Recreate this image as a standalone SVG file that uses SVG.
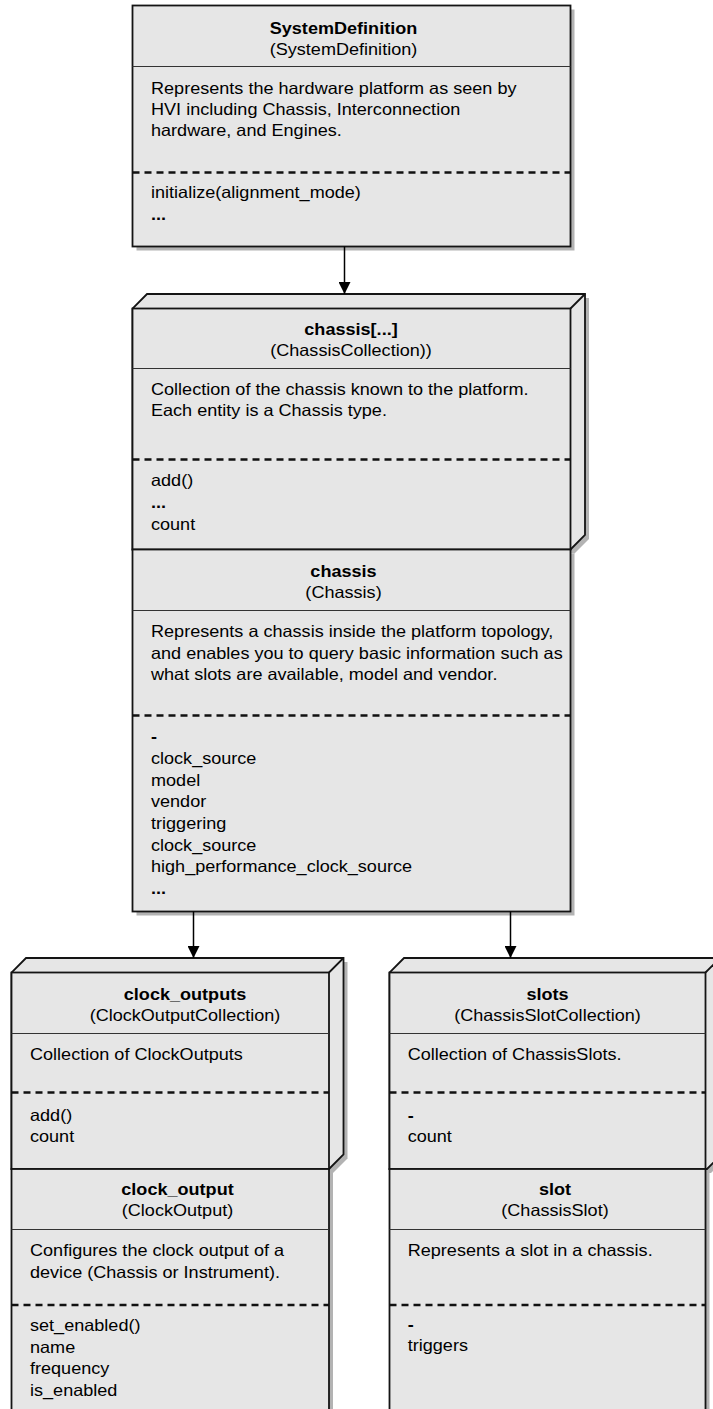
<svg xmlns="http://www.w3.org/2000/svg" width="713" height="1409" viewBox="0 0 713 1409">
  <style>
    .box { fill: #e6e6e6; stroke: #141414; stroke-width: 1.8; stroke-linejoin: miter; }
    .shadow { fill: #b3b3b3; stroke: none; }
    .div { stroke: #333333; stroke-width: 1; }
    .dash { stroke: #111111; stroke-width: 2.4; stroke-dasharray: 7 5; }
    .edge { stroke: #141414; stroke-width: 1.8; fill: none; }
    .conn { stroke: #000000; stroke-width: 1.5; fill: none; }
    text { font-family: "Liberation Sans", Arial, Helvetica, sans-serif; font-size: 16.5px; fill: #000000; }
    .b { font-weight: bold; }
    .c { text-anchor: middle; }
  </style>
  <defs>
    <marker id="arrow" markerUnits="userSpaceOnUse" markerWidth="12" markerHeight="12" refX="12" refY="6" orient="auto">
      <path d="M0,0 L12,6 L0,12 z" fill="#000000"/>
    </marker>
  </defs>

  <rect width="713" height="1409" fill="#ffffff"/>

  <!-- SystemDefinition -->
  <g id="system-definition">
    <rect class="shadow" x="136.5" y="9.5" width="438" height="241"/>
    <rect class="box" x="132.5" y="5.5" width="438" height="241"/>
    <line class="div" x1="132.5" y1="66.5" x2="570.5" y2="66.5"/>
    <line class="dash" x1="132.5" y1="172.5" x2="570.5" y2="172.5"/>
    <g transform="translate(343.5 0) scale(1.095 1)">
      <text class="b c" x="0" y="34">SystemDefinition</text>
      <text class="c" x="0" y="55">(SystemDefinition)</text>
    </g>
    <g transform="translate(151 0) scale(1.095 1)">
      <text x="0" y="94">Represents the hardware platform as seen by</text>
      <text x="0" y="115">HVI including Chassis, Interconnection</text>
      <text x="0" y="136">hardware, and Engines.</text>
      <text x="0" y="198">initialize(alignment_mode)</text>
      <text class="b" x="0" y="220">...</text>
    </g>
  </g>

  <!-- chassis[...] collection -->
  <g id="chassis-collection">
    <path class="shadow" d="M136.5,553.5 L136.5,312.5 L151,298 L589,298 L589,539 L574.5,553.5 Z"/>
    <path class="box" d="M132.5,549.5 L132.5,308.5 L147,294 L585,294 L585,535 L570.5,549.5 Z"/>
    <rect class="box" x="132.5" y="308.5" width="438" height="241"/>
    <line class="edge" x1="570.5" y1="308.5" x2="585" y2="294"/>
    <line class="div" x1="132.5" y1="368.5" x2="570.5" y2="368.5"/>
    <line class="dash" x1="132.5" y1="459.5" x2="570.5" y2="459.5"/>
    <g transform="translate(351 0) scale(1.095 1)">
      <text class="b c" x="0" y="335">chassis[...]</text>
      <text class="c" x="0" y="356">(ChassisCollection))</text>
    </g>
    <g transform="translate(151 0) scale(1.095 1)">
      <text x="0" y="395">Collection of the chassis known to the platform.</text>
      <text x="0" y="416.5">Each entity is a Chassis type.</text>
      <text x="0" y="486">add()</text>
      <text class="b" x="0" y="508">...</text>
      <text x="0" y="530">count</text>
    </g>
  </g>

  <!-- chassis -->
  <g id="chassis">
    <rect class="shadow" x="136.5" y="553.5" width="438" height="362"/>
    <rect class="box" x="132.5" y="549.5" width="438" height="362"/>
    <line class="div" x1="132.5" y1="610.5" x2="570.5" y2="610.5"/>
    <line class="dash" x1="132.5" y1="715.5" x2="570.5" y2="715.5"/>
    <g transform="translate(343.5 0) scale(1.095 1)">
      <text class="b c" x="0" y="577">chassis</text>
      <text class="c" x="0" y="598">(Chassis)</text>
    </g>
    <g transform="translate(151 0) scale(1.095 1)">
      <text x="0" y="637.5">Represents a chassis inside the platform topology,</text>
      <text x="0" y="659">and enables you to query basic information such as</text>
      <text x="0" y="680.5">what slots are available, model and vendor.</text>
      <text class="b" x="0" y="742.5">-</text>
      <text x="0" y="764">clock_source</text>
      <text x="0" y="785.7">model</text>
      <text x="0" y="807.3">vendor</text>
      <text x="0" y="829">triggering</text>
      <text x="0" y="850.6">clock_source</text>
      <text x="0" y="872.2">high_performance_clock_source</text>
      <text class="b" x="0" y="893.8">...</text>
    </g>
  </g>

  <!-- clock_outputs collection -->
  <g id="clock-outputs">
    <path class="shadow" d="M15.5,1173 L15.5,976.5 L30,962 L347.5,962 L347.5,1158.5 L333,1173 Z"/>
    <path class="box" d="M11.5,1169 L11.5,972.5 L26,958 L343.5,958 L343.5,1154.5 L329,1169 Z"/>
    <rect class="box" x="11.5" y="972.5" width="317.5" height="196.5"/>
    <line class="edge" x1="329" y1="972.5" x2="343.5" y2="958"/>
    <line class="div" x1="11.5" y1="1033.5" x2="329" y2="1033.5"/>
    <line class="dash" x1="11.5" y1="1092.5" x2="329" y2="1092.5"/>
    <g transform="translate(185 0) scale(1.095 1)">
      <text class="b c" x="0" y="1000">clock_outputs</text>
      <text class="c" x="0" y="1021">(ClockOutputCollection)</text>
    </g>
    <g transform="translate(30 0) scale(1.095 1)">
      <text x="0" y="1060">Collection of ClockOutputs</text>
      <text x="0" y="1121.5">add()</text>
      <text x="0" y="1142.5">count</text>
    </g>
  </g>

  <!-- clock_output -->
  <g id="clock-output">
    <rect class="shadow" x="15.5" y="1173" width="317.5" height="260"/>
    <rect class="box" x="11.5" y="1169" width="317.5" height="260"/>
    <line class="div" x1="11.5" y1="1229.5" x2="329" y2="1229.5"/>
    <line class="dash" x1="11.5" y1="1305" x2="329" y2="1305"/>
    <g transform="translate(177.5 0) scale(1.095 1)">
      <text class="b c" x="0" y="1195">clock_output</text>
      <text class="c" x="0" y="1216.5">(ClockOutput)</text>
    </g>
    <g transform="translate(30 0) scale(1.095 1)">
      <text x="0" y="1256.5">Configures the clock output of a</text>
      <text x="0" y="1278">device (Chassis or Instrument).</text>
      <text x="0" y="1331.5">set_enabled()</text>
      <text x="0" y="1353">name</text>
      <text x="0" y="1374.5">frequency</text>
      <text x="0" y="1396">is_enabled</text>
    </g>
  </g>

  <!-- slots collection -->
  <g id="slots">
    <path class="shadow" d="M393.5,1173 L393.5,976.5 L408,962 L725.5,962 L725.5,1158.5 L711,1173 Z"/>
    <path class="box" d="M389.5,1169 L389.5,972.5 L404,958 L721.5,958 L721.5,1154.5 L707,1169 Z"/>
    <rect class="box" x="389.5" y="972.5" width="316" height="196.5"/>
    <line class="edge" x1="705.5" y1="972.5" x2="720" y2="958"/>
    <line class="div" x1="389.5" y1="1033.5" x2="705.5" y2="1033.5"/>
    <line class="dash" x1="389.5" y1="1092.5" x2="705.5" y2="1092.5"/>
    <g transform="translate(547.5 0) scale(1.095 1)">
      <text class="b c" x="0" y="1000">slots</text>
      <text class="c" x="0" y="1021">(ChassisSlotCollection)</text>
    </g>
    <g transform="translate(407.7 0) scale(1.095 1)">
      <text x="0" y="1060">Collection of ChassisSlots.</text>
      <text class="b" x="0" y="1121">-</text>
      <text x="0" y="1142.5">count</text>
    </g>
  </g>

  <!-- slot -->
  <g id="slot">
    <rect class="shadow" x="393.5" y="1173" width="316" height="260"/>
    <rect class="box" x="389.5" y="1169" width="316" height="260"/>
    <line class="div" x1="389.5" y1="1229.5" x2="705.5" y2="1229.5"/>
    <line class="dash" x1="389.5" y1="1305" x2="705.5" y2="1305"/>
    <g transform="translate(555 0) scale(1.095 1)">
      <text class="b c" x="0" y="1195">slot</text>
      <text class="c" x="0" y="1216.5">(ChassisSlot)</text>
    </g>
    <g transform="translate(407.7 0) scale(1.095 1)">
      <text x="0" y="1256.5">Represents a slot in a chassis.</text>
      <text class="b" x="0" y="1330">-</text>
      <text x="0" y="1351.5">triggers</text>
    </g>
  </g>

  <!-- connectors -->
  <g id="connectors">
    <line class="conn" x1="344.5" y1="246.5" x2="344.5" y2="294" marker-end="url(#arrow)"/>
    <line class="conn" x1="193.5" y1="911.5" x2="193.5" y2="958" marker-end="url(#arrow)"/>
    <line class="conn" x1="510.5" y1="911.5" x2="510.5" y2="958" marker-end="url(#arrow)"/>
  </g>
</svg>
